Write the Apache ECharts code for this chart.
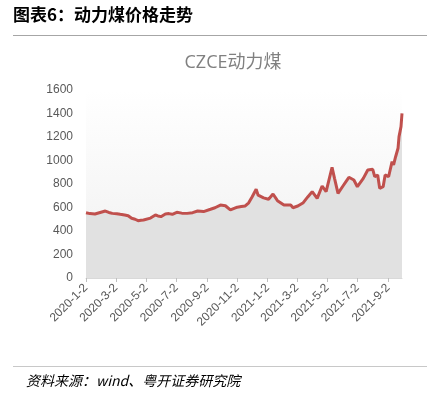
<!DOCTYPE html>
<html><head><meta charset="utf-8">
<script src="https://cdn.jsdelivr.net/npm/echarts@6/dist/echarts.min.js"></script>
<style>html,body{margin:0;padding:0;background:#fff}#c{width:443px;height:395px}</style>
</head><body><div id="c"></div>
<script>
const dates = ['2020-01-02','2020-01-10','2020-01-20','2020-02-10','2020-02-17','2020-02-24','2020-03-04','2020-03-11','2020-03-20','2020-03-27','2020-04-03','2020-04-10','2020-04-16','2020-04-22','2020-04-27','2020-04-30',
'2020-05-11','2020-05-21','2020-05-26','2020-06-01','2020-06-10','2020-06-17','2020-06-24','2020-07-03','2020-07-13','2020-07-24','2020-08-04','2020-08-14','2020-08-26','2020-09-09','2020-09-18','2020-09-29',
'2020-10-09','2020-10-19','2020-10-23','2020-11-02','2020-11-10','2020-11-18','2020-11-25','2020-12-02','2020-12-10','2020-12-14','2020-12-18','2020-12-25','2021-01-04','2021-01-13',
'2021-01-22','2021-02-04','2021-02-18','2021-02-22','2021-03-04','2021-03-15','2021-03-24','2021-04-02','2021-04-12','2021-04-22','2021-04-30',
'2021-05-12','2021-05-17','2021-05-24','2021-06-03','2021-06-09','2021-06-15','2021-06-25','2021-07-02','2021-07-14','2021-07-23','2021-08-02',
'2021-08-06','2021-08-12','2021-08-16','2021-08-23','2021-08-27','2021-09-03','2021-09-10','2021-09-13','2021-09-17','2021-09-22','2021-09-24',
'2021-09-28','2021-09-30'];
const prices = [556,548,545,570,558,550,547,542,536,530,508,500,488,492,494,485,
510,536,528,522,545,548,542,559,552,550,556,570,565,585,598,621,
615,579,573,603,608,613,640,692,755,705,692,682,670,715,
658,621,621,598,613,641,690,735,678,783,735,
942,848,720,783,820,857,834,777,848,919,925,
862,877,763,777,877,862,990,962,1030,1104,1203,
1288,1401];
const tickLabels = ['2020-1-2','2020-3-2','2020-5-2','2020-7-2','2020-9-2','2020-11-2','2021-1-2','2021-3-2','2021-5-2','2021-7-2','2021-9-2'];
const yTicks = [0,200,400,600,800,1000,1200,1400,1600];

const DAY = 86400000;
function toDay(s){const p=s.split('-').map(Number);return Math.round(Date.UTC(p[0],p[1]-1,p[2])/DAY);}
const tickDays = tickLabels.map(toDay);
const seriesData = dates.map((d,i)=>[toDay(d),prices[i]]);
function fmt(v){const d=new Date(v*DAY);return d.getUTCFullYear()+'-'+(d.getUTCMonth()+1)+'-'+d.getUTCDate();}

const chart = echarts.init(document.getElementById('c'));
chart.setOption({
  animation:false,
  title:{text:'CZCE动力煤',left:228,textAlign:'center',top:49,
    textStyle:{fontSize:18,fontWeight:'normal',color:'#808080',fontFamily:'"Open Sans","Noto Sans CJK SC",sans-serif'}},
  grid:{left:86,right:41,top:90,bottom:117,show:true,borderWidth:0,
    backgroundColor:{type:'linear',x:0,y:0,x2:0,y2:1,colorStops:[{offset:0,color:'#ffffff'},{offset:1,color:'#f0f0f0'}]}},
  xAxis:{type:'value',min:toDay('2020-01-02'),max:toDay('2021-09-30'),
    axisLine:{show:true,lineStyle:{color:'#d9d9d9'}},
    axisTick:{show:true,customValues:tickDays,length:4,lineStyle:{color:'#bfbfbf'}},
    splitLine:{show:false},
    axisLabel:{customValues:tickDays,rotate:45,margin:8,fontSize:12,color:'#595959',fontFamily:'"Liberation Sans",sans-serif',
      formatter:fmt}},
  yAxis:{type:'value',min:yTicks[0],max:yTicks[yTicks.length-1],interval:200,
    axisLine:{show:false},axisTick:{show:false},splitLine:{show:false},
    axisLabel:{margin:13,fontSize:12,color:'#595959',fontFamily:'"Liberation Sans",sans-serif',formatter:function(v){return String(v);}}},
  series:[{type:'line',data:seriesData,showSymbol:false,symbol:'none',
    lineStyle:{color:'#c0504d',width:3},
    areaStyle:{color:'#e1e1e1',opacity:1}}],
  graphic:[
    {type:'text',left:13,top:6,style:{text:'图表6：动力煤价格走势',font:'bold 17px "Noto Sans CJK SC",sans-serif',fill:'#000'}},
    {type:'line',shape:{x1:13,y1:35.5,x2:427,y2:35.5},style:{stroke:'#a6a6a6',lineWidth:1}},
    {type:'line',shape:{x1:13,y1:366.5,x2:427,y2:366.5},style:{stroke:'#c8c8c8',lineWidth:1}},
    {type:'text',left:26,top:374,style:{text:'资料来源：wind、粤开证券研究院',font:'italic 14px "Noto Sans CJK SC",sans-serif',fill:'#000'}}
  ]
});
</script></body></html>
